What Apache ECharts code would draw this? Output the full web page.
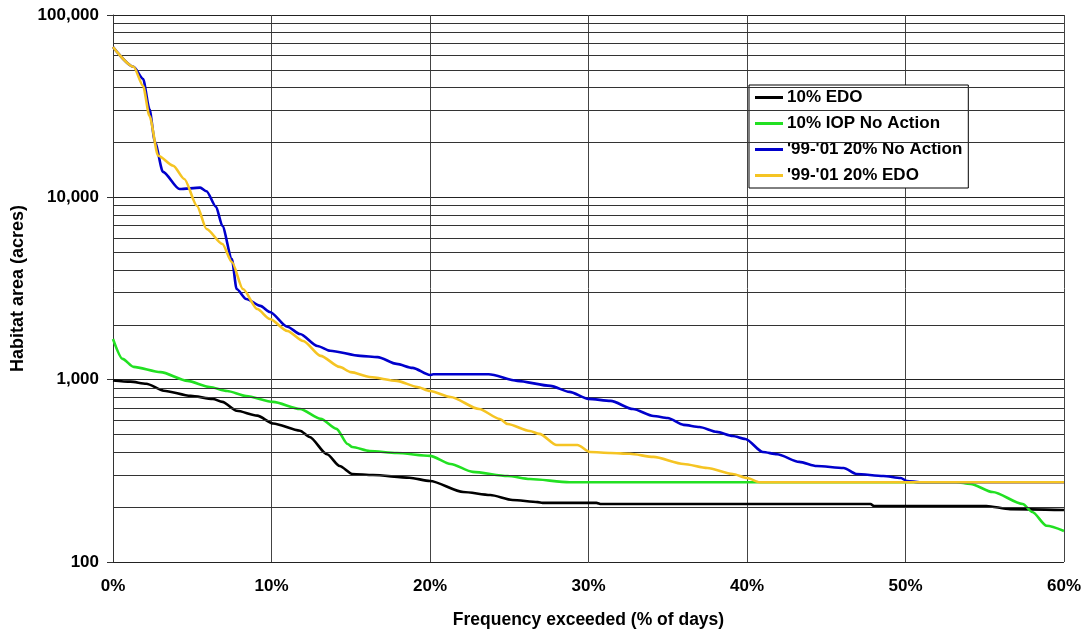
<!DOCTYPE html>
<html>
<head>
<meta charset="utf-8">
<script src="https://cdn.jsdelivr.net/npm/echarts@6/dist/echarts.min.js"></script>
<style>
html,body{margin:0;padding:0;background:#fff;}
#chart{width:1084px;height:634px;}
</style>
</head>
<body>
<div id="chart"></div>
<script>
// ---- data (x = % of days exceeded, y = habitat area in acres) ----
const seriesNames = ["10% EDO", "10% IOP No Action", "'99-'01 20% No Action", "'99-'01 20% EDO"];
const xTicks = [0, 10, 20, 30, 40, 50, 60];
const yTicks = [100, 1000, 10000, 100000];
const minorGrid = [200,300,400,500,600,700,800,900,2000,3000,4000,5000,6000,7000,8000,9000,20000,30000,40000,50000,60000,70000,80000,90000];

const edo10 = [[0,990],[1.1,975],[2.1,950],[3.2,870],[4.9,815],[6.3,785],[6.9,755],[7.8,675],[9.1,635],[10.1,575],[11.8,525],[12.4,485],[13.5,390],[14.3,336],[15.1,304],[16.4,300],[18.7,290],[20,278],[22.1,242],[23.8,233],[25.2,219],[26.8,213],[27.1,211],[30.5,211],[30.8,208],[47.8,208],[48,203],[55.1,203],[56.6,195],[60,193]];
const iopNoAction10 = [[0,1670],[0.6,1300],[1.3,1175],[3,1100],[4.7,985],[6.1,912],[7.2,867],[8.4,814],[10.1,755],[11.8,690],[13.1,610],[14.1,537],[14.8,444],[15.1,427],[16.2,406],[17.9,396],[20,382],[21.3,345],[22.7,312],[24.9,296],[26.3,285],[28.8,274],[53.2,274],[54.1,268],[55.5,242],[57.4,208],[58,188],[58.9,158],[60,148]];
const noAction20 = [[0,66800],[1.3,52000],[1.9,44600],[2.3,30500],[2.65,20100],[3.15,13800],[4.2,11100],[5.5,11300],[5.9,10800],[6.5,8860],[6.9,6970],[7.5,4590],[7.8,3140],[8.4,2770],[9.3,2540],[9.9,2350],[11,1950],[11.8,1780],[12.9,1530],[13.7,1440],[15.6,1350],[16.7,1330],[17.9,1220],[18.9,1160],[20,1060],[20.2,1070],[23.7,1070],[25.5,985],[27.6,925],[28.8,857],[30,785],[31.4,765],[32.8,690],[34.1,632],[35,616],[36,565],[37,550],[38.1,517],[39.1,491],[39.9,473],[41,401],[41.9,390],[43.3,354],[44.4,336],[46.1,328],[46.9,304],[48.6,296],[49.7,289],[50.1,278],[50.9,274],[60,274]];
const edo20 = [[0,66800],[1.3,52000],[1.9,40800],[2.3,28000],[2.85,16900],[3.8,14900],[4.5,12600],[5.3,8970],[5.9,6710],[6.9,5550],[7.5,4420],[8.2,3140],[9.1,2440],[9.9,2150],[11,1850],[12,1630],[13.1,1350],[14.3,1175],[15,1100],[16.2,1035],[17.9,985],[19.2,912],[20,867],[21.3,804],[23.1,690],[24.4,609],[24.9,571],[26.3,523],[26.9,504],[28,438],[29.3,438],[30.1,401],[31.4,396],[32.6,392],[34.1,377],[36,345],[37.5,328],[39.1,304],[40,289],[40.8,274],[60,274]];

const colors = ['#000000', '#22e022', '#0000cc', '#f5c423'];
const FONT = 'Liberation Sans, Arial, sans-serif';

const chart = echarts.init(document.getElementById('chart'));

function lineSeries(name, data, color, z) {
  return {
    name: name, type: 'line', data: data, showSymbol: false, symbol: 'none',
    smooth: 0.25, smoothMonotone: 'x', z: z,
    lineStyle: { color: color, width: 2.6 }, itemStyle: { color: color },
    emphasis: { disabled: true }
  };
}

chart.setOption({
  animation: false,
  backgroundColor: '#fff',
  grid: { left: 113, right: 20, top: 15, bottom: 71, containLabel: false },
  legend: {
    data: seriesNames,
    orient: 'vertical', left: 749, top: 85,
    backgroundColor: '#fff', borderColor: '#000', borderWidth: 1,
    padding: [4, 6, 4, 6], itemGap: 9, itemWidth: 28, itemHeight: 3, icon: 'rect',
    textStyle: { fontFamily: FONT, fontWeight: 'bold', fontSize: 17, color: '#000', padding: [0,0,0,-1] }
  },
  xAxis: {
    type: 'value', min: 0, max: 60, interval: 10,
    name: 'Frequency exceeded (% of days)', nameLocation: 'middle', nameGap: 49,
    nameTextStyle: { fontFamily: FONT, fontWeight: 'bold', fontSize: 17.5, color: '#000' },
    axisLine: { show: false }, axisTick: { show: false },
    axisLabel: { margin: 16, fontFamily: FONT, fontWeight: 'bold', fontSize: 17, color: '#000',
      formatter: v => xTicks.includes(v) ? v + '%' : '' },
    splitLine: { show: true, lineStyle: { color: '#444', width: 1 } }
  },
  yAxis: {
    type: 'log', logBase: 10, min: yTicks[0], max: yTicks[yTicks.length - 1],
    name: 'Habitat area (acres)', nameLocation: 'middle', nameGap: 86,
    nameTextStyle: { fontFamily: FONT, fontWeight: 'bold', fontSize: 18, color: '#000' },
    axisLine: { show: true, lineStyle: { color: '#333', width: 1 } },
    axisTick: { show: true, length: 6, lineStyle: { color: '#333' } },
    axisLabel: { margin: 14, fontFamily: FONT, fontWeight: 'bold', fontSize: 17, color: '#000',
      formatter: v => Math.round(v).toLocaleString('en-US') },
    splitLine: { show: true, lineStyle: { color: '#222', width: 1 } }
  },
  series: [
    {
      name: 'grid', type: 'line', data: [], z: 1, silent: true,
      markLine: {
        silent: true, symbol: 'none', label: { show: false },
        lineStyle: { color: '#333', width: 1, type: 'solid' },
        emphasis: { disabled: true },
        data: minorGrid.map(v => ({ yAxis: v }))
      }
    },
    lineSeries(seriesNames[0], edo10, colors[0], 3),
    lineSeries(seriesNames[1], iopNoAction10, colors[1], 4),
    lineSeries(seriesNames[2], noAction20, colors[2], 5),
    lineSeries(seriesNames[3], edo20, colors[3], 6)
  ]
});
</script>
</body>
</html>
